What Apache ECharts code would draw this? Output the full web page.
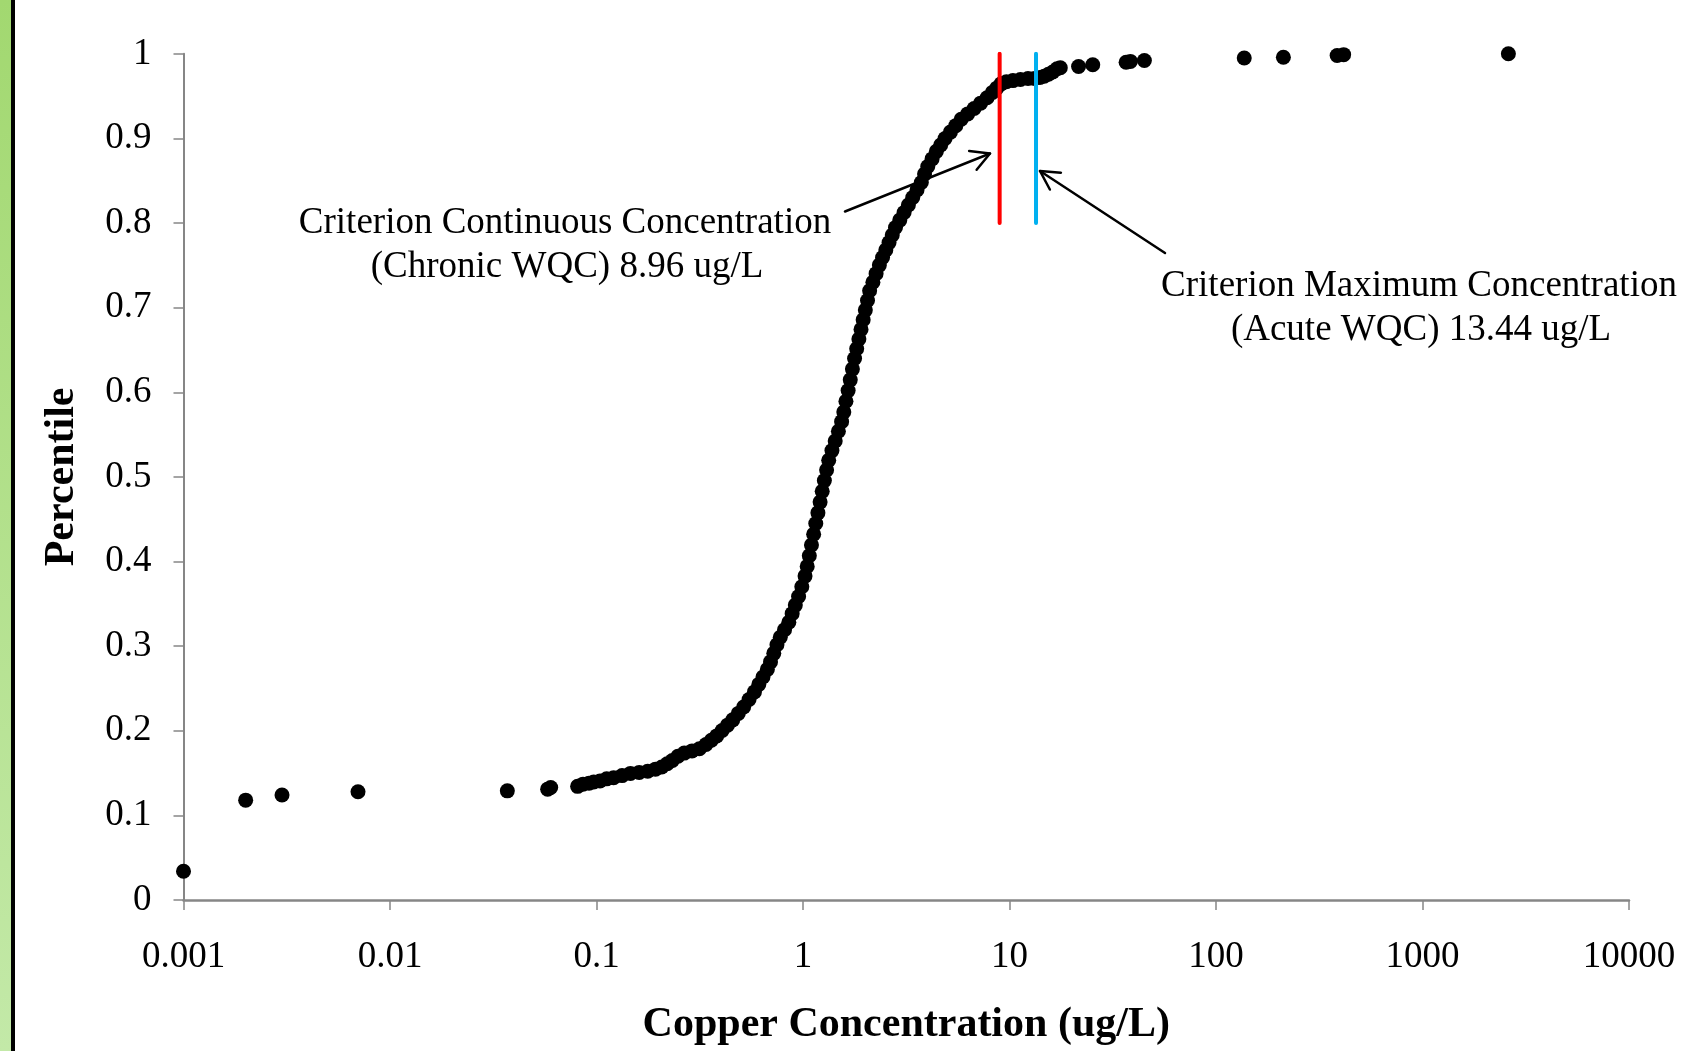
<!DOCTYPE html>
<html><head><meta charset="utf-8">
<script src="https://cdn.jsdelivr.net/npm/echarts/dist/echarts.min.js"></script>
<style>html,body{margin:0;padding:0;background:#fff;overflow:hidden}#c{width:1687px;height:1051px}</style>
</head><body><div id="c"></div>
<script>
// ---- data ----
const xTickLabels = ['0.001','0.01','0.1','1','10','100','1000','10000'];
const yTickLabels = ['0','0.1','0.2','0.3','0.4','0.5','0.6','0.7','0.8','0.9','1'];
const concentration = [
  0.001,0.002,0.003,0.007,0.037,0.058,0.060,
  0.081,0.086,0.092,0.097,0.104,0.112,0.121,0.133,0.146,0.161,
  0.177,0.193,0.207,0.220,0.233,0.248,0.266,0.290,0.315,0.339,
  0.360,0.382,0.406,0.431,0.457,0.486,0.516,0.548,0.582,0.611,
  0.640,0.672,0.696,0.722,0.748,0.776,0.814,0.854,0.886,0.918,
  0.952,0.987,1.023,1.048,1.073,1.099,1.126,1.153,1.181,1.210,
  1.239,1.269,1.301,1.332,1.381,1.432,1.484,1.538,1.576,1.614,
  1.654,1.694,1.735,1.777,1.820,1.865,1.910,1.956,2.004,2.053,
  2.102,2.180,2.259,2.343,2.428,2.518,2.610,2.706,2.805,2.943,
  3.087,3.239,3.399,3.565,3.741,3.878,4.020,4.218,4.425,4.645,
  4.874,5.176,5.495,5.836,6.272,6.742,7.244,7.786,8.266,8.674,
  9.100,9.665,10.39,11.30,12.29,13.21,14.03,14.72,15.44,16.20,
  16.99,17.62,
  21.6,25.3,36.7,38.5,45.0,137,212,386,415,2606
];
const percentile = [
  0.034,0.118,0.124,0.128,0.129,0.131,0.133,
  0.1343,0.1369,0.1381,0.1394,0.1407,0.1432,0.1445,0.1470,0.1496,0.1508,
  0.1521,0.1546,0.1572,0.1610,0.1648,0.1698,0.1736,0.1762,0.1787,0.1838,
  0.1888,0.1939,0.2003,0.2066,0.2129,0.2205,0.2281,0.2370,0.2459,0.2548,
  0.2636,0.2725,0.2814,0.2915,0.3016,0.3105,0.3194,0.3283,0.3384,0.3485,
  0.3587,0.3701,0.3828,0.3942,0.4068,0.4195,0.4322,0.4449,0.4575,0.4702,
  0.4829,0.4956,0.5082,0.5196,0.5311,0.5425,0.5539,0.5653,0.5767,0.5894,
  0.6020,0.6147,0.6274,0.6400,0.6515,0.6629,0.6743,0.6857,0.6971,0.7085,
  0.7199,0.7300,0.7402,0.7503,0.7592,0.7681,0.7769,0.7858,0.7947,0.8035,
  0.8124,0.8213,0.8302,0.8390,0.8479,0.8580,0.8669,0.8758,0.8847,0.8923,
  0.8999,0.9075,0.9151,0.9227,0.9290,0.9354,0.9417,0.9480,0.9544,0.9594,
  0.9645,0.9670,0.9683,0.9696,0.9708,0.9708,0.9721,0.9734,0.9759,0.9785,
  0.9823,0.9835,
  0.985,0.987,0.990,0.991,0.992,0.995,0.996,0.998,0.999,1.0
];
const chronicWQC = 8.96;
const acuteWQC = 13.44;
const criterionRange = [0.8, 1.0];
const chronicText = ['Criterion Continuous Concentration', '(Chronic WQC) 8.96 ug/L'];
const acuteText = ['Criterion Maximum Concentration', '(Acute WQC) 13.44 ug/L'];
const xAxisTitle = 'Copper Concentration (ug/L)';
const yAxisTitle = 'Percentile';

// ---- chart ----
const FONT = "'Liberation Serif','Times New Roman',serif";
const chart = echarts.init(document.getElementById('c'));

function arrow(from, tip, len, ang) {
  const dx = from[0] - tip[0], dy = from[1] - tip[1];
  const a = Math.atan2(dy, dx);
  const p1 = [tip[0] + len * Math.cos(a + ang), tip[1] + len * Math.sin(a + ang)];
  const p2 = [tip[0] + len * Math.cos(a - ang), tip[1] + len * Math.sin(a - ang)];
  const st = {stroke: '#000', lineWidth: 2.5, lineCap: 'round', lineJoin: 'round', fill: null};
  return [
    {type: 'line', shape: {x1: from[0], y1: from[1], x2: tip[0], y2: tip[1]}, style: st, z: 100},
    {type: 'polyline', shape: {points: [p1, tip, p2]}, style: st, z: 100}
  ];
}
function txt(s, x, y) {
  return {type: 'text', x: x, y: y, z: 100,
    style: {text: s, fill: '#000', font: "37px " + FONT, textAlign: 'center', textVerticalAlign: 'middle'}};
}

const graphics = [
  {type: 'rect', shape: {x: 0, y: 0, width: 11, height: 1051},
   style: {fill: new echarts.graphic.LinearGradient(0, 0, 0, 1, [
     {offset: 0, color: '#a2d870'}, {offset: 1, color: '#c3e9a8'}])}},
  {type: 'rect', shape: {x: 11, y: 0, width: 4, height: 1051}, style: {fill: '#000'}},
  txt(chronicText[0], 565, 223),
  txt(chronicText[1], 567, 267),
  txt(acuteText[0], 1419, 286),
  txt(acuteText[1], 1421, 330)
].concat(arrow([845, 211.5], [990, 153.5], 21, 0.5))
 .concat(arrow([1165, 253], [1040, 171], 21, 0.5));

const option = {
  backgroundColor: '#fff',
  animation: false,
  grid: {left: 183.5, right: 58, top: 53.8, bottom: 145},
  xAxis: {
    type: 'log', logBase: 10, min: 0.001, max: 10000, interval: 1,
    name: xAxisTitle, nameLocation: 'middle', nameGap: 104,
    nameTextStyle: {fontFamily: FONT, fontSize: 42, fontWeight: 'bold', color: '#000'},
    axisLine: {lineStyle: {color: '#868686', width: 2.5}},
    axisTick: {show: true, length: 10, lineStyle: {color: '#868686', width: 1.5}},
    minorTick: {show: false},
    splitLine: {show: false},
    axisLabel: {margin: 39, fontFamily: FONT, fontSize: 37, color: '#000',
      formatter: (v, i) => xTickLabels[i]}
  },
  yAxis: {
    type: 'value', min: 0, max: 1, interval: 0.1,
    name: yAxisTitle, nameLocation: 'middle', nameGap: 100,
    nameTextStyle: {fontFamily: FONT, fontSize: 42, fontWeight: 'bold', color: '#000'},
    axisLine: {show: true, lineStyle: {color: '#868686', width: 2}},
    axisTick: {show: true, length: 10, lineStyle: {color: '#868686', width: 1.5}},
    splitLine: {show: false},
    axisLabel: {margin: 32, fontFamily: FONT, fontSize: 37, color: '#000',
      formatter: (v) => yTickLabels[Math.round(v * 10)]}
  },
  series: [
    {type: 'scatter', symbol: 'circle', symbolSize: 15, clip: false,
     itemStyle: {color: '#000', opacity: 1},
     data: concentration.map((c, i) => [c, percentile[i]]), z: 2},
    {type: 'line', symbol: 'none', z: 5,
     lineStyle: {color: '#ff0000', width: 4, cap: 'round'},
     data: criterionRange.map(p => [chronicWQC, p])},
    {type: 'line', symbol: 'none', z: 5,
     lineStyle: {color: '#00b0f0', width: 4, cap: 'round'},
     data: criterionRange.map(p => [acuteWQC, p])}
  ],
  graphic: graphics
};
chart.setOption(option);
</script>
</body></html>
